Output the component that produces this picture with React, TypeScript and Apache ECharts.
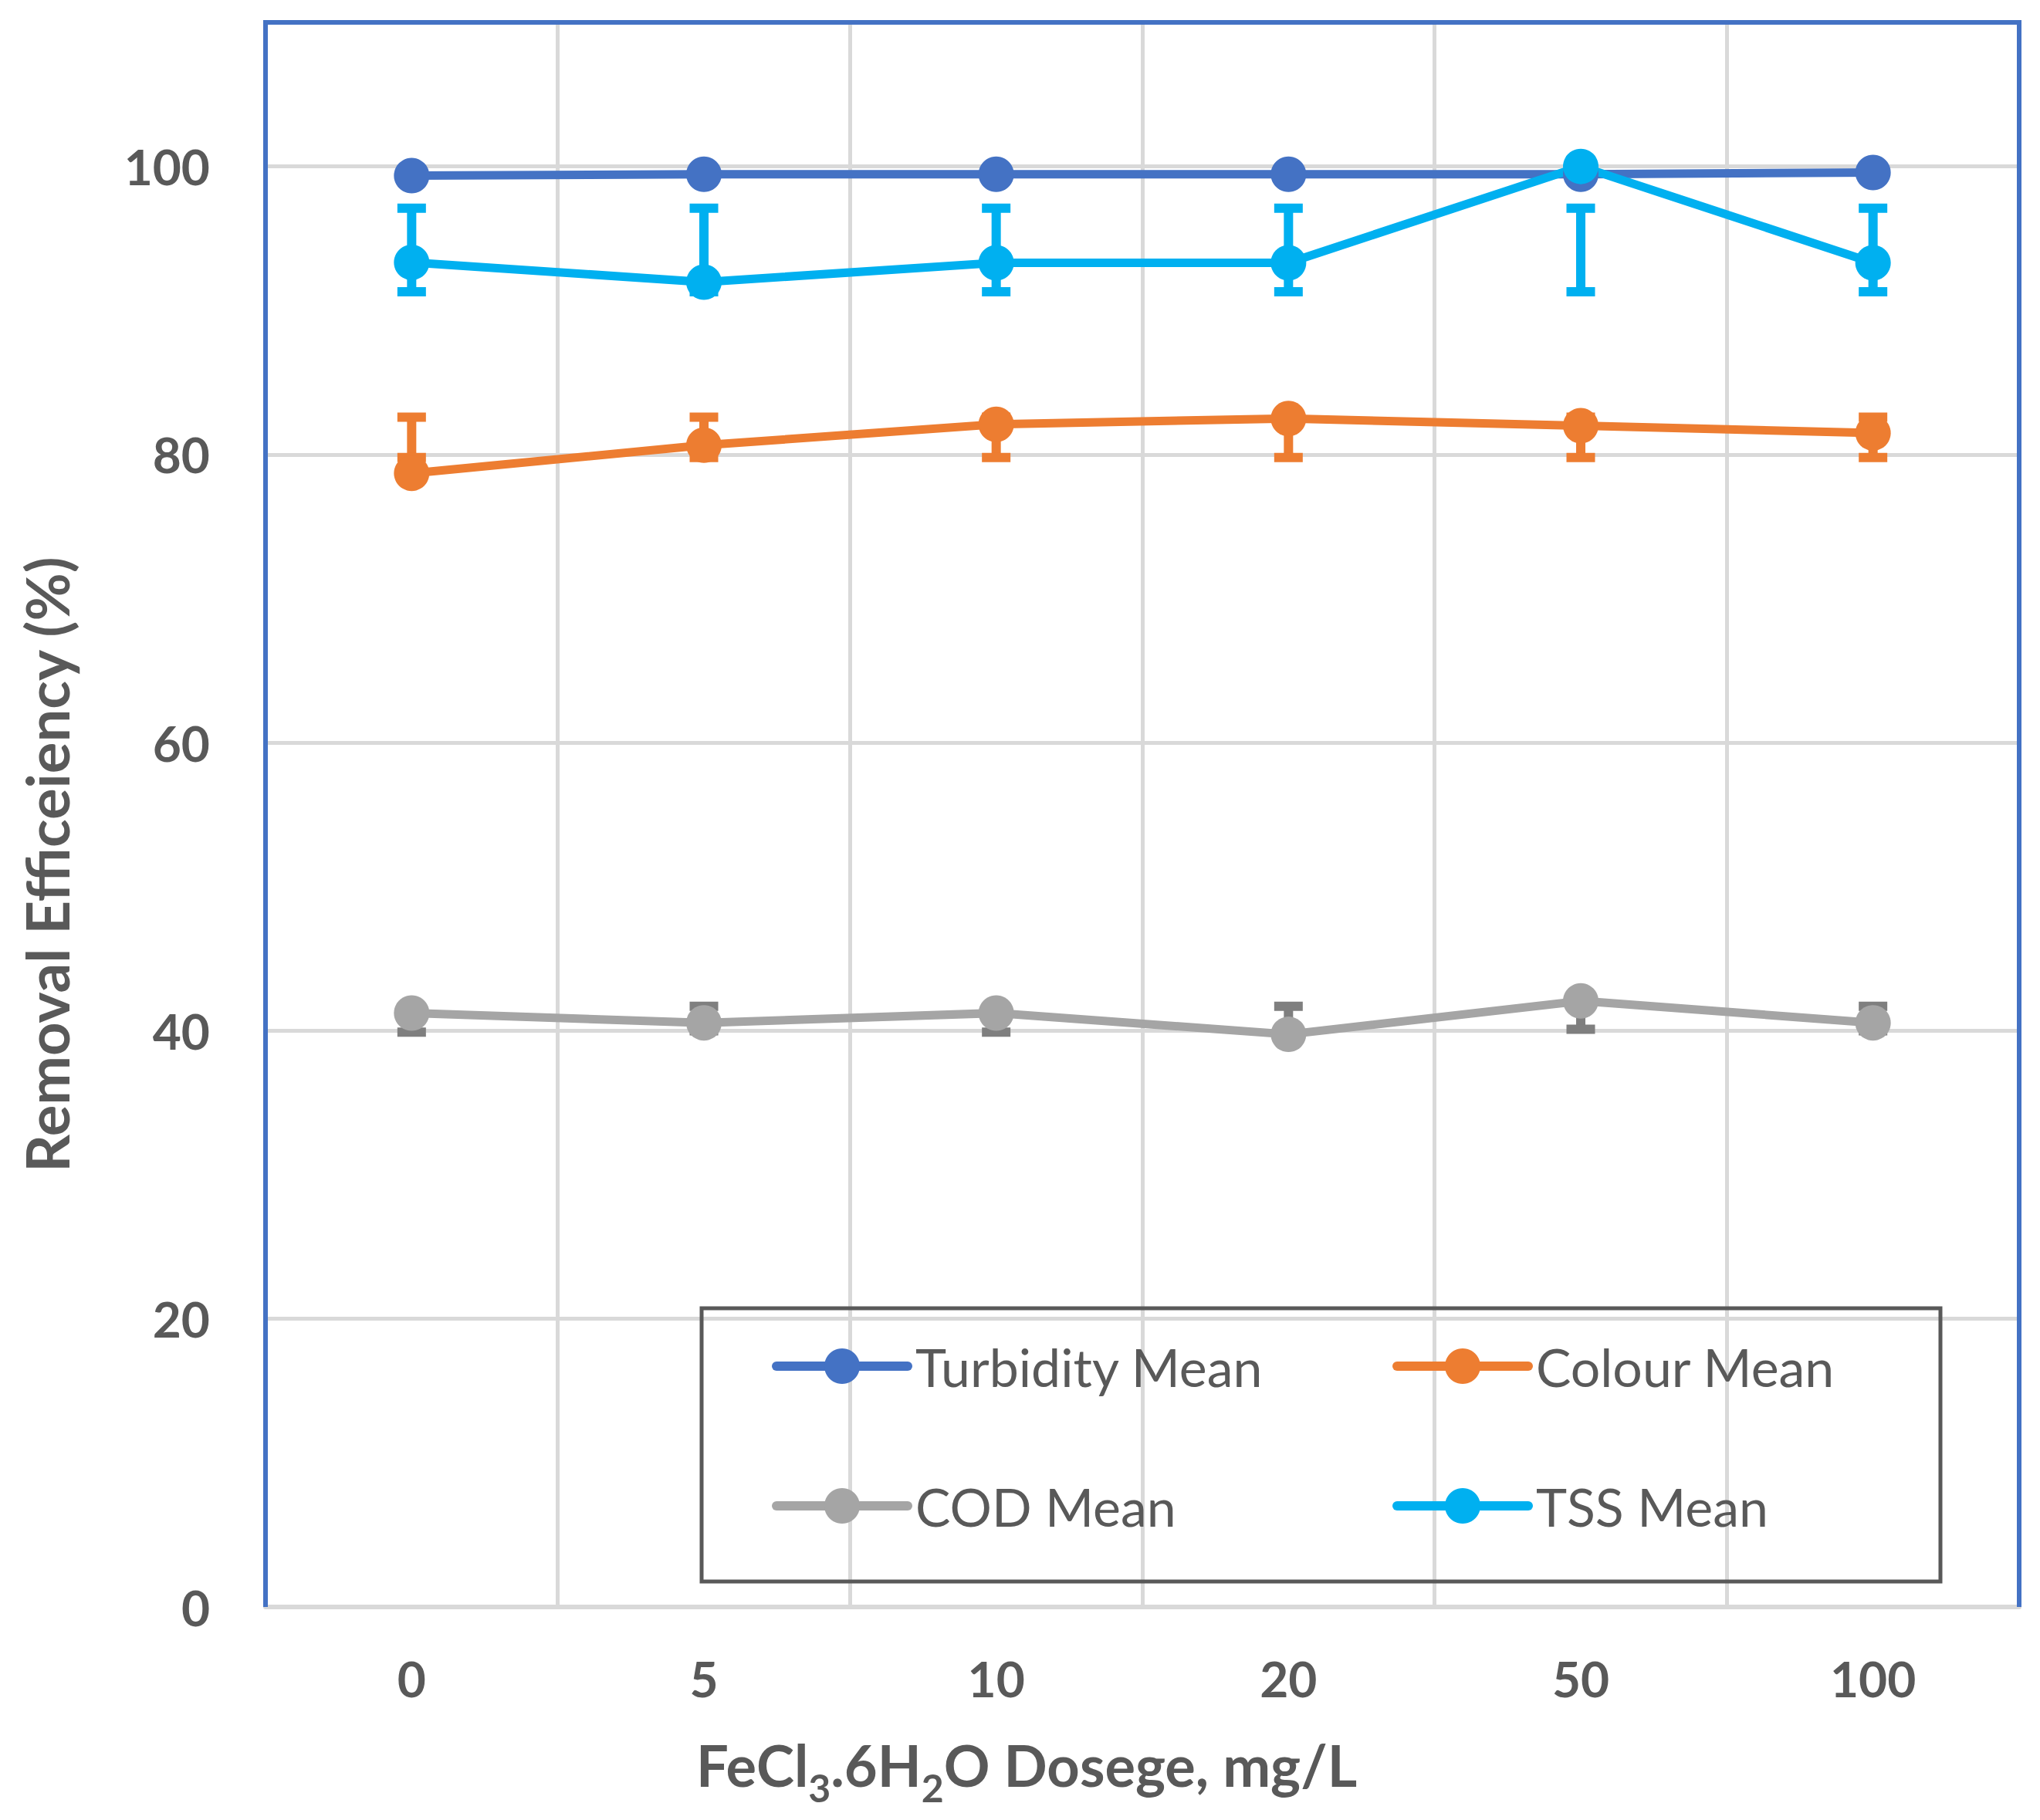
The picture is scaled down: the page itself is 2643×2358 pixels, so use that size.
import React, { useEffect, useRef } from 'react';
import * as echarts from 'echarts';

const W = 2643;
const H = 2358;
const GRID_LEFT = 344;
const GRID_TOP = 29;
const GRID_RIGHT = 2616;
const GRID_BOTTOM = 2082;
const FONT = 'Lato, "Open Sans", sans-serif';
const TEXT = '#595959';

const categories = ['0', '5', '10', '20', '50', '100'];
const yTicks = [0, 20, 40, 60, 80, 100];

const turbidityMean = [99.36, 99.46, 99.46, 99.46, 99.46, 99.58];
const colourMean = [78.7, 80.65, 82.1, 82.5, 82.0, 81.5];
const codMean = [41.23, 40.55, 41.23, 39.75, 42.07, 40.55];
const tssMean = [93.34, 91.97, 93.31, 93.31, 100.0, 93.31];

const colourLow = [79.8, 79.8, 79.8, 79.8, 79.8, 79.8];
const colourHigh = [82.6, 82.6, 82.6, 82.6, 82.6, 82.6];
const codLow = [39.9, 40.0, 39.9, 40.0, 40.1, 40.0];
const codHigh = [41.6, 41.7, 41.6, 41.7, 41.7, 41.7];
const tssLow = [91.3, 91.3, 91.3, 91.3, 91.3, 91.3];
const tssHigh = [97.1, 97.1, 97.1, 97.1, 97.1, 97.1];

const C_TURB = '#4472C4';
const C_COL = '#ED7D31';
const C_COD = '#A5A5A5';
const C_COD_ERR = '#7F7F7F';
const C_TSS = '#00B0F0';

function lineSeries(name: string, data: number[], color: string) {
  return {
    type: 'line',
    name,
    data,
    z: 3,
    symbol: 'circle',
    symbolSize: 46,
    showSymbol: true,
    lineStyle: { color, width: 11 },
    itemStyle: { color },
    emphasis: { disabled: true },
  };
}

function errSeries(name: string, low: number[], high: number[], color: string) {
  return {
    type: 'custom',
    name,
    z: 2,
    data: categories.map((_, i) => [i, low[i], high[i]]),
    encode: { x: 0, y: [1, 2] },
    renderItem: (_params: any, api: any) => {
      const idx = api.value(0);
      const lo = api.coord([idx, api.value(1)]);
      const hi = api.coord([idx, api.value(2)]);
      const hw = 18.5;
      const st = { stroke: color, lineWidth: 12 };
      return {
        type: 'group',
        children: [
          { type: 'line', shape: { x1: lo[0], y1: lo[1], x2: hi[0], y2: hi[1] }, style: st },
          { type: 'line', shape: { x1: lo[0] - hw, y1: lo[1], x2: lo[0] + hw, y2: lo[1] }, style: st },
          { type: 'line', shape: { x1: hi[0] - hw, y1: hi[1], x2: hi[0] + hw, y2: hi[1] }, style: st },
        ],
      };
    },
  };
}

export default function App() {
  const ref = useRef<HTMLDivElement>(null);
  useEffect(() => {
    const chart = echarts.init(ref.current!, null, { renderer: 'svg', width: W, height: H });
    const legendCommon = {
      orient: 'vertical',
      padding: 0,
      itemWidth: 170,
      itemHeight: 57.5,
      itemGap: 113,
      selectedMode: false,
      lineStyle: { width: 12, cap: 'round' },
      textStyle: { fontFamily: FONT, fontSize: 68, color: TEXT, padding: [0, 0, 0, 5] },
    };
    const option: any = {
      animation: false,
      backgroundColor: '#ffffff',
      grid: {
        left: GRID_LEFT,
        top: GRID_TOP,
        width: GRID_RIGHT - GRID_LEFT,
        height: GRID_BOTTOM - GRID_TOP,
        containLabel: false,
      },
      xAxis: {
        type: 'category',
        data: categories,
        boundaryGap: true,
        axisLine: { show: true, lineStyle: { color: '#D9D9D9', width: 6 } },
        axisTick: { show: false },
        axisLabel: {
          margin: 60,
          fontFamily: FONT,
          fontSize: 64,
          fontWeight: 'bold',
          color: TEXT,
          interval: 0,
        },
        splitLine: { show: true, interval: 0, lineStyle: { color: '#D9D9D9', width: 5 } },
      },
      yAxis: {
        type: 'value',
        min: 0,
        max: 110,
        interval: 20,
        axisLine: { show: false },
        axisTick: { show: false },
        axisLabel: {
          margin: 72,
          fontFamily: FONT,
          fontSize: 64,
          fontWeight: 'bold',
          color: TEXT,
          formatter: (v: number) => (yTicks.indexOf(v) >= 0 ? String(v) : ''),
        },
        splitLine: { show: true, lineStyle: { color: '#D9D9D9', width: 5 } },
      },
      legend: [
        { ...legendCommon, left: 1000, top: 1736, data: ['Turbidity Mean', 'COD Mean'] },
        { ...legendCommon, left: 1804, top: 1736, data: ['Colour Mean', 'TSS Mean'] },
      ],
      series: [
        errSeries('Colour SD', colourLow, colourHigh, C_COL),
        errSeries('COD SD', codLow, codHigh, C_COD_ERR),
        errSeries('TSS SD', tssLow, tssHigh, C_TSS),
        lineSeries('Turbidity Mean', turbidityMean, C_TURB),
        lineSeries('Colour Mean', colourMean, C_COL),
        lineSeries('COD Mean', codMean, C_COD),
        lineSeries('TSS Mean', tssMean, C_TSS),
      ],
      graphic: [
        {
          type: 'polyline',
          z: 100,
          silent: true,
          shape: {
            points: [
              [GRID_LEFT, GRID_BOTTOM],
              [GRID_LEFT, GRID_TOP],
              [GRID_RIGHT, GRID_TOP],
              [GRID_RIGHT, GRID_BOTTOM],
            ],
          },
          style: { stroke: '#4472C4', lineWidth: 6, fill: 'none' },
        },
        {
          type: 'rect',
          z: 50,
          silent: true,
          shape: { x: 909, y: 1695, width: 1605, height: 354 },
          style: { stroke: '#595959', lineWidth: 5, fill: 'none' },
        },
        {
          type: 'text',
          z: 50,
          x: 60,
          y: 1120,
          rotation: Math.PI / 2,
          style: {
            text: 'Removal Efficeiency (%)',
            fontFamily: FONT,
            fontSize: 76,
            fontWeight: 'bold',
            fill: TEXT,
            align: 'center',
            verticalAlign: 'middle',
          },
        },
        {
          type: 'text',
          z: 50,
          x: 902,
          y: 2286,
          style: {
            text: '{a|FeCl}{s|3}{a|.6H}{s|2}{a|O Dosege, mg/L}',
            fontFamily: FONT,
            fontSize: 74,
            fontWeight: 'bold',
            fill: TEXT,
            align: 'left',
            verticalAlign: 'middle',
            rich: {
              a: { fontFamily: FONT, fontSize: 74, fontWeight: 'bold', fill: TEXT, lineHeight: 74 },
              s: {
                fontFamily: FONT,
                fontSize: 50,
                fontWeight: 'bold',
                fill: TEXT,
                lineHeight: 50,
                padding: [60, 0, 0, 0],
              },
            },
          },
        },
      ],
    };
    chart.setOption(option);
    return () => chart.dispose();
  }, []);
  return (
    <div
      ref={ref}
      style={{ position: 'absolute', left: 0, top: 0, width: W, height: H, background: '#fff' }}
    />
  );
}
